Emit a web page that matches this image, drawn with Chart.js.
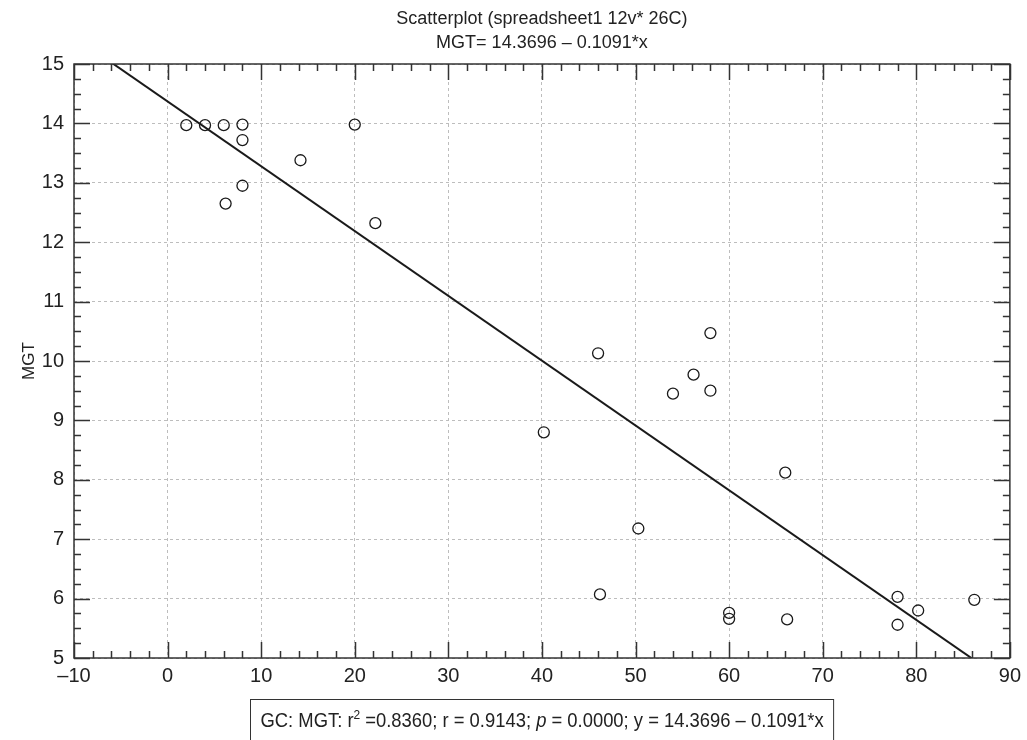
<!DOCTYPE html>
<html>
<head>
<meta charset="utf-8">
<title>Scatterplot MGT</title>
<script src="https://cdn.jsdelivr.net/npm/chart.js@4.4.1/dist/chart.umd.min.js"></script>
<style>
  html, body { margin: 0; padding: 0; background: #fff; }
  #wrap { width: 1027px; height: 740px; position: relative; }
</style>
</head>
<body>
<div id="wrap"><canvas id="chart"></canvas></div>
<script>
// values
const xValues = [2, 4, 6, 8, 8, 20, 14.2, 8, 6.2, 22.2, 58, 46, 56.2, 54, 58, 40.2, 66, 50.3, 46.2, 60, 60, 66.2, 78, 78, 80.2, 86.2];
const yValues = [13.97, 13.97, 13.97, 13.98, 13.72, 13.98, 13.38, 12.95, 12.65, 12.32, 10.47, 10.13, 9.77, 9.45, 9.5, 8.8, 8.12, 7.18, 6.07, 5.76, 5.66, 5.65, 6.03, 5.56, 5.8, 5.98];

// fitted line MGT = a + b*x
const fitIntercept = 14.3696;
const fitSlope = -0.1091;

const xRange = [-10, 90];
const yRange = [5, 15];
const xMajorStep = 10, xMinorStep = 2;
const yMajorStep = 1, yMinorStep = 0.25;

const titleLines = ['Scatterplot (spreadsheet1 12v* 26C)', 'MGT= 14.3696 \u2013 0.1091*x'];
const yAxisTitle = 'MGT';
// stats box, split where the style changes
const statsParts = [
  { t: 'GC: MGT: r' },
  { t: '2', sup: true },
  { t: ' =0.8360; r = 0.9143; ' },
  { t: 'p', italic: true },
  { t: ' = 0.0000; y = 14.3696 \u2013 0.1091*x' }
];

const FONT = "'Liberation Sans Narrow', 'Liberation Sans', Roboto, sans-serif";
Chart.defaults.font.family = FONT;
Chart.defaults.color = '#222';

const points = xValues.map((x, i) => ({ x: x, y: yValues[i] }));
const fitLine = xRange.map(x => ({ x: x, y: fitIntercept + fitSlope * x }));

// box frame + inward ticks on all four sides
const framePlugin = {
  id: 'frame',
  afterDatasetsDraw(chart) {
    const { ctx, chartArea: a, scales: { x, y } } = chart;
    ctx.save();
    ctx.strokeStyle = '#333';
    ctx.lineWidth = 1.5;
    ctx.beginPath();
    const nx = Math.round((xRange[1] - xRange[0]) / xMinorStep);
    for (let i = 0; i <= nx; i++) {
      const v = xRange[0] + i * xMinorStep;
      const px = Math.round(x.getPixelForValue(v)) + 0.5;
      const len = (i % (xMajorStep / xMinorStep) === 0) ? 16 : 7;
      ctx.moveTo(px, a.bottom); ctx.lineTo(px, a.bottom - len);
      ctx.moveTo(px, a.top); ctx.lineTo(px, a.top + len);
    }
    const ny = Math.round((yRange[1] - yRange[0]) / yMinorStep);
    for (let i = 0; i <= ny; i++) {
      const v = yRange[0] + i * yMinorStep;
      const py = Math.round(y.getPixelForValue(v)) + 0.5;
      const len = (i % (yMajorStep / yMinorStep) === 0) ? 16 : 7;
      ctx.moveTo(a.left, py); ctx.lineTo(a.left + len, py);
      ctx.moveTo(a.right, py); ctx.lineTo(a.right - len, py);
    }
    ctx.stroke();
    ctx.strokeRect(a.left, a.top, a.right - a.left, a.bottom - a.top);
    ctx.restore();
  }
};

// two-line title and the stats box under the axis
const textPlugin = {
  id: 'texts',
  afterDraw(chart) {
    const { ctx, chartArea: a } = chart;
    const cx = (a.left + a.right) / 2;
    ctx.save();
    ctx.fillStyle = '#222';
    ctx.textAlign = 'center';
    ctx.textBaseline = 'middle';
    ctx.font = '18px ' + FONT;
    ctx.fillText(titleLines[0], cx, 19);
    ctx.fillText(titleLines[1], cx, 43);

    // narrow the stats text a little, the original uses a condensed face
    const squeeze = 0.92;
    const base = '20px ' + FONT;
    const fontOf = p => p.sup ? '13px ' + FONT : (p.italic ? 'italic ' + base : base);
    let w = 0;
    statsParts.forEach(p => { ctx.font = fontOf(p); w += ctx.measureText(p.t).width; });
    const boxW = w * squeeze + 20;
    const boxL = Math.round(cx - boxW / 2) + 0.5;
    ctx.strokeStyle = '#333';
    ctx.lineWidth = 1;
    ctx.strokeRect(boxL, 699.5, boxW, 60);
    ctx.textAlign = 'left';
    ctx.textBaseline = 'alphabetic';
    ctx.translate(boxL + 10, 0);
    ctx.scale(squeeze, 1);
    let tx = 0;
    statsParts.forEach(p => {
      ctx.font = fontOf(p);
      ctx.fillText(p.t, tx, p.sup ? 719 : 727);
      tx += ctx.measureText(p.t).width;
    });
    ctx.restore();
  }
};

new Chart(document.getElementById('chart'), {
  type: 'scatter',
  data: {
    datasets: [
      {
        type: 'line',
        data: fitLine,
        borderColor: '#1a1a1a',
        borderWidth: 2,
        pointRadius: 0,
        fill: false
      },
      {
        data: points,
        pointRadius: 5.5,
        pointHoverRadius: 5.5,
        borderColor: '#1a1a1a',
        borderWidth: 1.3,
        backgroundColor: 'rgba(255,255,255,0)'
      }
    ]
  },
  options: {
    responsive: true,
    maintainAspectRatio: false,
    animation: false,
    layout: { padding: { top: 64, right: 13, bottom: 52, left: 0 } },
    plugins: { legend: { display: false }, tooltip: { enabled: false } },
    scales: {
      x: {
        type: 'linear',
        min: xRange[0],
        max: xRange[1],
        afterFit(s) { s.height = 30; },
        ticks: {
          stepSize: xMajorStep,
          padding: 6,
          color: '#222',
          font: { size: 20 },
          callback: v => String(v).replace('-', '\u2013')
        },
        grid: { color: '#bdbdbd', lineWidth: 1, drawTicks: false },
        border: { display: false, dash: [3, 3] }
      },
      y: {
        min: yRange[0],
        max: yRange[1],
        afterFit(s) { s.width = 74; },
        ticks: { stepSize: yMajorStep, padding: 10, color: '#222', font: { size: 20 } },
        grid: { color: '#bdbdbd', lineWidth: 1, drawTicks: false },
        border: { display: false, dash: [3, 3] },
        title: { display: true, text: yAxisTitle, color: '#222', font: { size: 17 }, padding: { top: 19, bottom: 0 } }
      }
    }
  },
  plugins: [framePlugin, textPlugin]
});
</script>
</body>
</html>
